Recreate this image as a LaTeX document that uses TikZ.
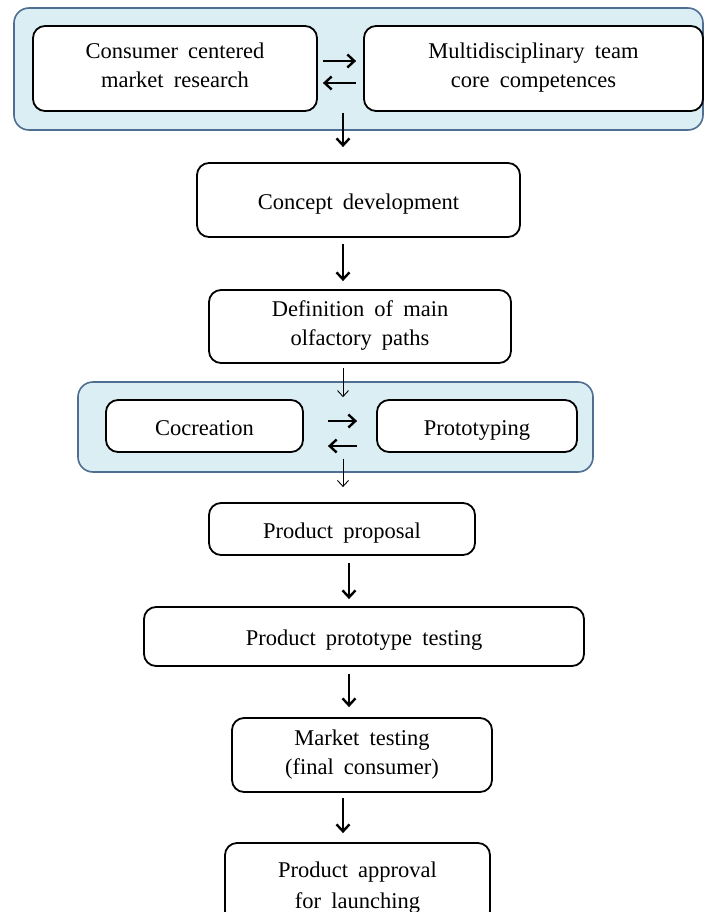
\documentclass[tikz,border=0pt]{standalone}
\usepackage{fontspec}
\setmainfont{Liberation Serif}[WordSpace=1.8]
\usetikzlibrary{arrows.meta}
\definecolor{panelfill}{HTML}{DBEEF4}
\definecolor{paneldraw}{HTML}{4E6E92}
\newcommand{\boxstrut}{\rule[-6pt]{0pt}{30pt}}
\begin{document}
\begin{tikzpicture}[x=1pt,y=-1pt,
  panel/.style={draw=paneldraw,fill=panelfill,line width=1.6pt,rounded corners=15pt,inner sep=0pt},
  stepbox/.style={draw=black,fill=white,line width=1.8pt,rounded corners=12pt,align=center,inner sep=0pt,
    font=\fontsize{22.5}{29}\selectfont,execute at begin node=\boxstrut,execute at end node=\boxstrut},
  bigarrow/.style={-{Straight Barb[length=7pt,width=13pt,line width=2.4pt]},line width=2.7pt},
  thinarrow/.style={-{Straight Barb[length=6pt,width=11pt,line width=0.9pt]},line width=0.9pt}]
\useasboundingbox (0,0) rectangle (705,912);
\begin{scope}
\clip (0,0) rectangle (705,912);
% panels
\node[panel,minimum width=689pt,minimum height=122pt] (outerA) at (358.5,69) {};
\node[panel,minimum width=515pt,minimum height=90pt] (outerB) at (335.5,427) {};
% boxes
\node[stepbox,minimum width=284pt,minimum height=85pt] (cmr) at (175,68.5) {Consumer centered\\market research};
\node[stepbox,minimum width=339pt,minimum height=85pt] (mtc) at (533.5,68.5) {Multidisciplinary team\\core competences};
\node[stepbox,minimum width=323pt,minimum height=74pt] (cd) at (358.5,200) {Concept development};
\node[stepbox,minimum width=302pt,minimum height=73pt] (def) at (360,326.5) {Definition of main\\olfactory paths};
\node[stepbox,minimum width=197pt,minimum height=52pt] (coc) at (204.5,426) {Cocreation};
\node[stepbox,minimum width=200pt,minimum height=52pt] (pro) at (477,426) {Prototyping};
\node[stepbox,minimum width=266pt,minimum height=52pt] (pp) at (342,529) {Product proposal};
\node[stepbox,minimum width=440pt,minimum height=59pt] (ppt) at (364,636.5) {Product prototype testing};
\node[stepbox,minimum width=260pt,minimum height=74pt] (mt) at (362,755) {Market testing\\(final consumer)};
\node[stepbox,minimum width=265pt,minimum height=80pt] (pa) at (357.5,883) {};
\node[font=\fontsize{22.5}{29}\selectfont,align=center,inner sep=0pt] (patext) at (357.5,884) {\boxstrut Product approval\\for launching\boxstrut};
% column coordinates
\coordinate (c1) at (343,0);
\coordinate (c2) at (349,0);
% horizontal arrows
\draw[bigarrow,shorten <=5pt,shorten >=7pt] ([yshift=7.5pt]cmr.east) -- ([yshift=7.5pt]mtc.west);
\draw[bigarrow,shorten <=7pt,shorten >=5pt] ([yshift=-14.5pt]mtc.west) -- ([yshift=-14.5pt]cmr.east);
\draw[bigarrow,shorten <=24pt,shorten >=19pt] ([yshift=5pt]coc.east) -- ([yshift=5pt]pro.west);
\draw[bigarrow,shorten <=19pt,shorten >=24pt] ([yshift=-20pt]pro.west) -- ([yshift=-20pt]coc.east);
% vertical arrows
\draw[bigarrow,shorten <=1pt,shorten >=15pt] (cmr.south -| c1) -- (cd.north -| c1);
\draw[bigarrow,shorten <=6pt,shorten >=8pt] (cd.south -| c1) -- (def.north -| c1);
\draw[thinarrow,shorten <=4pt,shorten >=-16pt] (def.south -| c1) -- (outerB.north -| c1);
\draw[thinarrow,shorten <=-14pt,shorten >=15pt] (outerB.south -| c1) -- (pp.north -| c1);
\draw[bigarrow,shorten <=7pt,shorten >=7pt] (pp.south -| c2) -- (ppt.north -| c2);
\draw[bigarrow,shorten <=7pt,shorten >=10pt] (ppt.south -| c2) -- (mt.north -| c2);
\draw[bigarrow,shorten <=5pt,shorten >=9pt] (mt.south -| c1) -- (pa.north -| c1);
\end{scope}
\end{tikzpicture}
\end{document}
